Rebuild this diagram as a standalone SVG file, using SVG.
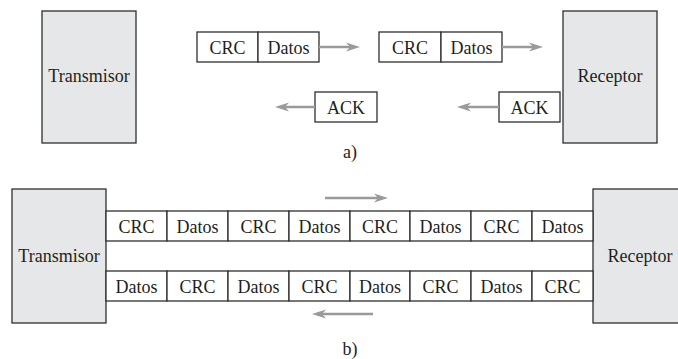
<svg xmlns="http://www.w3.org/2000/svg" width="678" height="359" viewBox="0 0 678 359">
<style>
.station{fill:#e6e7e8;stroke:#2e2e2e;stroke-width:1.3}
.cell{fill:#ffffff;stroke:#2e2e2e;stroke-width:1.3}
.lbl{font-family:"Liberation Serif","Times New Roman",serif;font-size:18px;fill:#231f20;text-anchor:middle}
.arr{stroke:#9a9a9a;stroke-width:2.5;fill:none;marker-end:url(#ah)}
</style>
<defs>
<marker id="ah" markerUnits="userSpaceOnUse" markerWidth="16" markerHeight="12" refX="4" refY="6" orient="auto" viewBox="0 0 16 12">
<path d="M0,1.5 L14,6 L0,10.5 L4,6 Z" fill="#9a9a9a"/>
</marker>
</defs>
<rect width="678" height="359" fill="#ffffff"/>

<!-- a) -->
<g id="tx-a">
<rect class="station" x="42" y="11" width="94" height="132"/>
<text class="lbl" x="89" y="82">Transmisor</text>
</g>
<g id="rx-a">
<rect class="station" x="563" y="11" width="94" height="132"/>
<text class="lbl" x="610" y="82">Receptor</text>
</g>
<g id="frame-a1">
<rect class="cell" x="197" y="32" width="61" height="30"/>
<rect class="cell" x="258" y="32" width="61" height="30"/>
<text class="lbl" x="227.5" y="54">CRC</text>
<text class="lbl" x="288.5" y="54">Datos</text>
</g>
<g id="frame-a2">
<rect class="cell" x="379" y="32" width="62" height="30"/>
<rect class="cell" x="441" y="32" width="61" height="30"/>
<text class="lbl" x="410" y="54">CRC</text>
<text class="lbl" x="471.5" y="54">Datos</text>
</g>
<g id="ack-a1">
<rect class="cell" x="315" y="92" width="62" height="30"/>
<text class="lbl" x="346" y="114">ACK</text>
</g>
<g id="ack-a2">
<rect class="cell" x="499" y="92" width="61" height="30"/>
<text class="lbl" x="529.5" y="114">ACK</text>
</g>
<text class="lbl" x="350" y="158">a)</text>

<!-- b) -->
<g id="tx-b">
<rect class="station" x="12" y="189" width="94" height="134"/>
<text class="lbl" x="59" y="262">Transmisor</text>
</g>
<g id="rx-b">
<rect class="station" x="593" y="189" width="90" height="134"/>
<text class="lbl" x="640" y="262">Receptor</text>
</g>
<g id="row-forward">
<rect class="cell" x="106" y="211" width="61" height="30"/>
<rect class="cell" x="167" y="211" width="61" height="30"/>
<rect class="cell" x="228" y="211" width="61" height="30"/>
<rect class="cell" x="289" y="211" width="61" height="30"/>
<rect class="cell" x="350" y="211" width="60" height="30"/>
<rect class="cell" x="410" y="211" width="61" height="30"/>
<rect class="cell" x="471" y="211" width="61" height="30"/>
<rect class="cell" x="532" y="211" width="61" height="30"/>
<text class="lbl" x="136.5" y="233">CRC</text>
<text class="lbl" x="197.5" y="233">Datos</text>
<text class="lbl" x="258.5" y="233">CRC</text>
<text class="lbl" x="319.5" y="233">Datos</text>
<text class="lbl" x="380" y="233">CRC</text>
<text class="lbl" x="440.5" y="233">Datos</text>
<text class="lbl" x="501.5" y="233">CRC</text>
<text class="lbl" x="562.5" y="233">Datos</text>
</g>
<g id="row-return">
<rect class="cell" x="106" y="271" width="61" height="30"/>
<rect class="cell" x="167" y="271" width="61" height="30"/>
<rect class="cell" x="228" y="271" width="61" height="30"/>
<rect class="cell" x="289" y="271" width="61" height="30"/>
<rect class="cell" x="350" y="271" width="60" height="30"/>
<rect class="cell" x="410" y="271" width="61" height="30"/>
<rect class="cell" x="471" y="271" width="61" height="30"/>
<rect class="cell" x="532" y="271" width="61" height="30"/>
<text class="lbl" x="136.5" y="293">Datos</text>
<text class="lbl" x="197.5" y="293">CRC</text>
<text class="lbl" x="258.5" y="293">Datos</text>
<text class="lbl" x="319.5" y="293">CRC</text>
<text class="lbl" x="380" y="293">Datos</text>
<text class="lbl" x="440.5" y="293">CRC</text>
<text class="lbl" x="501.5" y="293">Datos</text>
<text class="lbl" x="562.5" y="293">CRC</text>
</g>
<text class="lbl" x="350" y="355">b)</text>

<g id="connectors">
<line class="arr" x1="319" y1="47" x2="350" y2="47"/>
<line class="arr" x1="502" y1="47" x2="533" y2="47"/>
<line class="arr" x1="499" y1="107" x2="467" y2="107"/>
<line class="arr" x1="315" y1="107" x2="285" y2="107"/>
<line class="arr" x1="325" y1="198" x2="378" y2="198"/>
<line class="arr" x1="373" y1="314" x2="322" y2="314"/>
</g>
</svg>
